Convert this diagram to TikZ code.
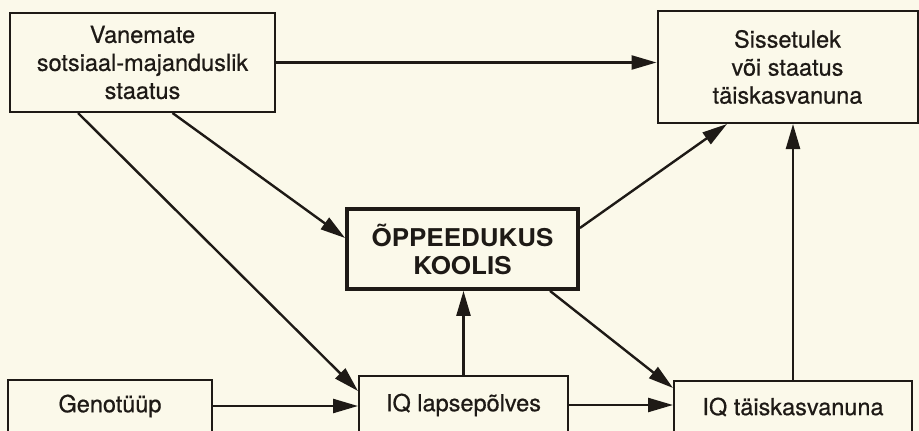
\documentclass[tikz,border=0pt]{standalone}
\usepackage{fontspec}
\setmainfont{TeX Gyre Heros}[FakeBold=0.6]
\newfontfamily\boldfam{TeX Gyre Heros}[FakeStretch=1.06]
\usetikzlibrary{arrows.meta}
\definecolor{paper}{RGB}{251,249,234}
\definecolor{ink}{RGB}{30,26,22}
\begin{document}
\begin{tikzpicture}[x=1pt,y=-1pt,
  box/.style={draw=ink, line width=2pt, align=center, inner sep=0pt,
    font=\fontsize{23.5}{28}\selectfont, text=ink},
  keybox/.style={draw=ink, line width=3.8pt, align=center, inner sep=0pt,
    font=\boldfam\bfseries\fontsize{24.5}{28}\selectfont, text=ink},
  conn/.style={draw=ink, line width=2.4pt,
    -{Triangle[length=25pt,width=14pt]}}]
\fill[paper] (0,0) rectangle (919,431);
\useasboundingbox (0,0) rectangle (919,431);
\begin{scope}
\clip (0,0) rectangle (919,431);
\node[box, minimum width=265pt, minimum height=99pt] (v) at (142.5,62.5)
  {Vanemate\\sotsiaal-majanduslik\\staatus};
\node[box, minimum width=260pt, minimum height=112pt] (s) at (787.5,67)
  {Sissetulek\\või staatus\\täiskasvanuna};
\node[keybox, minimum width=231pt, minimum height=80pt] (o) at (462.5,249)
  {ÕPPEEDUKUS\\KOOLIS};
\node[box, minimum width=204pt, minimum height=52pt] (g) at (110,406)
  {Genotüüp};
\node[box, minimum width=209pt, minimum height=58pt] (l) at (463.5,405)
  {IQ lapsepõlves};
\node[box, minimum width=238pt, minimum height=52pt] (t) at (793,407)
  {IQ täiskasvanuna};
\end{scope}
\draw[conn] (v.east) -- (v.east -| s.west);
\draw[conn] ([xshift=30pt]v.south) -- ([yshift=11pt]o.west);
\draw[conn] ([xshift=-64.5pt]v.south) -- ([yshift=14pt]l.west);
\draw[conn] ([yshift=21pt]o.east) -- ([xshift=-60.5pt]s.south);
\draw[conn] ([xshift=87.5pt]o.south) -- ([yshift=19pt]t.west);
\draw[conn] (l.north) -- (l.north |- o.south);
\draw[conn] (l.east) -- (l.east -| t.west);
\draw[conn] (g.east) -- (g.east -| l.west);
\draw[conn] (t.north) -- (t.north |- s.south);
\end{tikzpicture}
\end{document}
